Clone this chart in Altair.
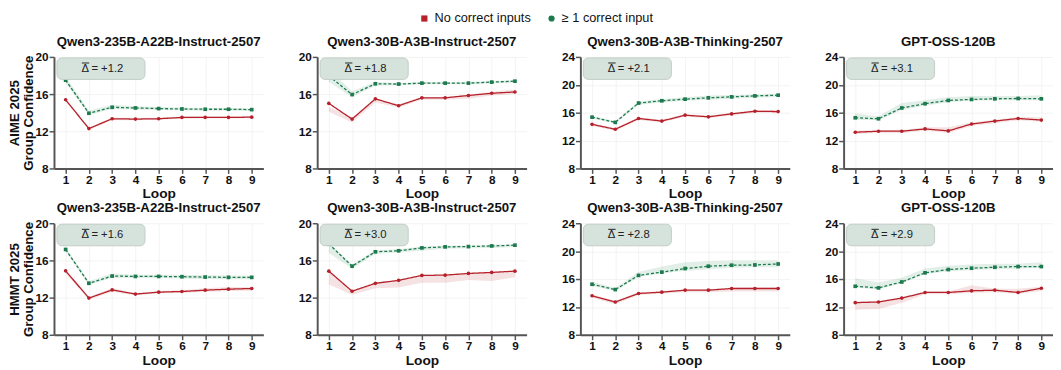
import altair as alt
import pandas as pd

LOOPS = [1, 2, 3, 4, 5, 6, 7, 8, 9]
SERIES_R = "No correct inputs"
SERIES_G = "≥ 1 correct input"
RED = "#b5202a"
GREEN = "#1c7a4e"

MODELS = ["Qwen3-235B-A22B-Instruct-2507", "Qwen3-30B-A3B-Instruct-2507",
          "Qwen3-30B-A3B-Thinking-2507", "GPT-OSS-120B"]
BENCHES = ["AIME 2025", "HMMT 2025"]
DELTAS = [["+1.2", "+1.8", "+2.1", "+3.1"], ["+1.6", "+3.0", "+2.8", "+2.9"]]
YMAX = [20, 20, 24, 24]

# ---- AIME 2025 ----
AIME_235_R = [15.39, 12.29, 13.35, 13.31, 13.35, 13.49, 13.49, 13.49, 13.52]
AIME_235_R_LO = [15.25, 12.15, 13.2, 13.2, 13.25, 13.35, 13.4, 13.4, 13.4]
AIME_235_R_HI = [15.5, 12.4, 13.45, 13.45, 13.45, 13.6, 13.6, 13.6, 13.65]
AIME_235_G = [17.5, 13.94, 14.58, 14.51, 14.44, 14.40, 14.37, 14.37, 14.33]
AIME_235_G_LO = [17.2, 13.75, 14.4, 14.35, 14.3, 14.25, 14.22, 14.22, 14.2]
AIME_235_G_HI = [17.9, 14.2, 14.85, 14.7, 14.6, 14.55, 14.5, 14.5, 14.48]

AIME_30I_R = [15.0, 13.31, 15.49, 14.75, 15.6, 15.6, 15.85, 16.09, 16.23]
AIME_30I_R_LO = [14.1, 12.95, 15.1, 14.55, 15.4, 15.4, 15.5, 15.85, 16.0]
AIME_30I_R_HI = [14.6, 13.5, 15.5, 14.9, 15.7, 15.7, 15.95, 16.25, 16.5]
AIME_30I_G = [17.96, 15.95, 17.11, 17.08, 17.18, 17.18, 17.18, 17.29, 17.39]
AIME_30I_G_LO = [17.3, 15.7, 16.9, 16.95, 17.05, 17.05, 17.05, 17.15, 17.25]
AIME_30I_G_HI = [18.7, 16.3, 17.3, 17.2, 17.3, 17.3, 17.3, 17.4, 17.5]

AIME_30T_R = [14.33, 13.62, 15.17, 14.8, 15.64, 15.41, 15.83, 16.21, 16.16]
AIME_30T_R_LO = [14.1, 13.4, 14.95, 14.6, 15.45, 15.2, 15.6, 16.0, 15.95]
AIME_30T_R_HI = [14.5, 13.8, 15.35, 15.0, 15.8, 15.6, 16.0, 16.4, 16.35]
AIME_30T_G = [15.36, 14.61, 17.38, 17.71, 17.94, 18.13, 18.27, 18.41, 18.51]
AIME_30T_G_LO = [15.15, 14.45, 17.15, 17.45, 17.7, 17.85, 18.0, 18.15, 18.25]
AIME_30T_G_HI = [15.55, 14.8, 17.6, 17.95, 18.2, 18.45, 18.55, 18.65, 18.75]

AIME_OSS_R = [13.2, 13.34, 13.34, 13.67, 13.39, 14.38, 14.8, 15.17, 14.94]
AIME_OSS_R_LO = [12.9, 13.1, 13.1, 13.4, 13.1, 14.1, 14.5, 14.9, 14.7]
AIME_OSS_R_HI = [13.4, 13.5, 13.5, 13.9, 13.9, 14.6, 15.0, 15.4, 15.3]
AIME_OSS_G = [15.27, 15.13, 16.68, 17.29, 17.76, 17.9, 17.99, 18.04, 17.99]
AIME_OSS_G_LO = [15.0, 14.9, 16.4, 17.0, 17.5, 17.7, 17.8, 17.8, 17.8]
AIME_OSS_G_HI = [15.9, 15.5, 17.4, 17.8, 18.2, 18.4, 18.4, 18.4, 18.5]

# ---- HMMT 2025 ----
HMMT_235_R = [14.88, 11.95, 12.83, 12.38, 12.59, 12.66, 12.8, 12.91, 12.98]
HMMT_235_R_LO = [14.6, 11.8, 12.6, 12.25, 12.45, 12.5, 12.6, 12.7, 12.75]
HMMT_235_R_HI = [15.0, 12.1, 13.0, 12.5, 12.7, 12.8, 13.0, 13.15, 13.15]
HMMT_235_G = [17.18, 13.54, 14.32, 14.28, 14.28, 14.25, 14.21, 14.18, 14.18]
HMMT_235_G_LO = [16.95, 13.35, 14.1, 14.1, 14.1, 14.05, 14.0, 13.98, 13.98]
HMMT_235_G_HI = [17.4, 13.75, 14.6, 14.45, 14.45, 14.45, 14.4, 14.38, 14.38]

HMMT_30I_R = [14.85, 12.69, 13.54, 13.86, 14.39, 14.42, 14.6, 14.71, 14.85]
HMMT_30I_R_LO = [13.4, 12.3, 13.0, 13.1, 13.6, 13.6, 13.9, 13.8, 14.2]
HMMT_30I_R_HI = [14.8, 12.8, 13.6, 13.9, 14.4, 14.4, 14.6, 14.7, 14.9]
HMMT_30I_G = [17.78, 15.38, 16.93, 17.04, 17.35, 17.46, 17.49, 17.56, 17.64]
HMMT_30I_G_LO = [16.8, 15.1, 16.7, 16.85, 17.05, 17.25, 17.3, 17.35, 17.45]
HMMT_30I_G_HI = [17.9, 15.55, 17.1, 17.2, 17.5, 17.6, 17.6, 17.7, 17.75]

HMMT_30T_R = [13.6, 12.71, 13.93, 14.12, 14.4, 14.4, 14.64, 14.64, 14.64]
HMMT_30T_R_LO = [13.3, 12.4, 13.7, 13.9, 14.1, 14.1, 14.2, 14.2, 14.2]
HMMT_30T_R_HI = [13.8, 12.9, 14.1, 14.3, 14.5, 14.5, 14.8, 14.8, 14.8]
HMMT_30T_G = [15.25, 14.49, 16.52, 16.99, 17.51, 17.84, 17.98, 18.02, 18.16]
HMMT_30T_G_LO = [15.0, 14.3, 16.3, 16.8, 17.2, 17.4, 17.6, 17.7, 17.7]
HMMT_30T_G_HI = [15.6, 14.7, 17.0, 17.8, 18.4, 18.6, 18.7, 18.7, 18.7]

HMMT_OSS_R = [12.61, 12.71, 13.27, 14.07, 14.07, 14.31, 14.4, 14.07, 14.68]
HMMT_OSS_R_LO = [11.6, 11.7, 12.6, 13.8, 13.8, 14.0, 14.1, 13.9, 14.3]
HMMT_OSS_R_HI = [12.8, 12.8, 13.4, 14.2, 14.2, 15.1, 14.6, 14.6, 14.9]
HMMT_OSS_G = [14.96, 14.73, 15.58, 16.89, 17.36, 17.55, 17.69, 17.79, 17.79]
HMMT_OSS_G_LO = [14.8, 14.5, 15.4, 16.7, 17.1, 17.3, 17.4, 17.5, 17.6]
HMMT_OSS_G_HI = [16.1, 15.5, 16.2, 17.5, 17.9, 18.1, 18.2, 18.2, 18.4]

PANELS = [
    [(AIME_235_R, AIME_235_R_LO, AIME_235_R_HI, AIME_235_G, AIME_235_G_LO, AIME_235_G_HI),
     (AIME_30I_R, AIME_30I_R_LO, AIME_30I_R_HI, AIME_30I_G, AIME_30I_G_LO, AIME_30I_G_HI),
     (AIME_30T_R, AIME_30T_R_LO, AIME_30T_R_HI, AIME_30T_G, AIME_30T_G_LO, AIME_30T_G_HI),
     (AIME_OSS_R, AIME_OSS_R_LO, AIME_OSS_R_HI, AIME_OSS_G, AIME_OSS_G_LO, AIME_OSS_G_HI)],
    [(HMMT_235_R, HMMT_235_R_LO, HMMT_235_R_HI, HMMT_235_G, HMMT_235_G_LO, HMMT_235_G_HI),
     (HMMT_30I_R, HMMT_30I_R_LO, HMMT_30I_R_HI, HMMT_30I_G, HMMT_30I_G_LO, HMMT_30I_G_HI),
     (HMMT_30T_R, HMMT_30T_R_LO, HMMT_30T_R_HI, HMMT_30T_G, HMMT_30T_G_LO, HMMT_30T_G_HI),
     (HMMT_OSS_R, HMMT_OSS_R_LO, HMMT_OSS_R_HI, HMMT_OSS_G, HMMT_OSS_G_LO, HMMT_OSS_G_HI)],
]

FONT = "Liberation Sans"
W, H = 214, 114

color_scale = alt.Scale(domain=[SERIES_R, SERIES_G], range=[RED, GREEN])
shape_scale = alt.Scale(domain=[SERIES_R, SERIES_G], range=["square", "circle"])
legend = alt.Legend(
    title=None, orient="none", legendX=372, legendY=-46, direction="horizontal",
    labelFontSize=13, labelFont=FONT, symbolSize=40, columnPadding=14, labelOffset=4,
    symbolOpacity=1,
)


def panel(r, c):
    rm, rlo, rhi, gm, glo, ghi = PANELS[r][c]
    df = pd.DataFrame({
        "loop": LOOPS * 2,
        "series": [SERIES_R] * 9 + [SERIES_G] * 9,
        "mean": rm + gm,
        "lo": rlo + glo,
        "hi": rhi + ghi,
    })
    ymax = YMAX[c]
    yvals = list(range(8, ymax + 1, 4))
    x = alt.X("loop:Q", scale=alt.Scale(domain=[0.5, 9.5], nice=False),
              axis=alt.Axis(values=LOOPS, format="d", title="Loop"))
    ytitle = [BENCHES[r], "Group Confidence"] if c == 0 else None
    yaxis = alt.Axis(values=yvals, title=ytitle) if ytitle else alt.Axis(values=yvals, title=None)
    yscale = alt.Scale(domain=[8, ymax], nice=False)
    y = alt.Y("mean:Q", scale=yscale, axis=yaxis)
    base = alt.Chart(df)

    # legend-only layer: no rows survive the filter, the legend comes from the scale domains
    leg = base.transform_filter(alt.datum.loop > 100).mark_point(filled=True, opacity=1).encode(
        x=x, y=y,
        color=alt.Color("series:N", scale=color_scale, legend=legend),
        shape=alt.Shape("series:N", scale=shape_scale, legend=legend))
    layers = [leg]
    for s, col in [(SERIES_R, RED), (SERIES_G, GREEN)]:
        sb = base.transform_filter(alt.datum.series == s)
        layers.append(sb.mark_area(opacity=0.13, color=col).encode(
            x=x, y=alt.Y("lo:Q", scale=yscale, axis=yaxis), y2="hi:Q"))
    for s, col, dash, shp in [(SERIES_R, RED, [1, 0], "circle"),
                              (SERIES_G, GREEN, [3, 2], "square")]:
        sb = base.transform_filter(alt.datum.series == s)
        layers.append(sb.mark_line(strokeWidth=1.3, color=col, strokeDash=dash).encode(x=x, y=y))
        layers.append(sb.mark_point(filled=True, opacity=1, shape=shp, size=14,
                                    color=col).encode(x=x, y=y))

    ann = pd.DataFrame({"label": ["Δ = " + DELTAS[r][c]]})
    box = alt.Chart(ann).mark_rect(
        fill="#d5e3dc", stroke="#c3cdc8", strokeWidth=1, cornerRadius=5).encode(
        x=alt.value(3), x2=alt.value(93), y=alt.value(1), y2=alt.value(23))
    txt = alt.Chart(ann).mark_text(
        fontSize=11.5, font=FONT, color="#222222", align="left", baseline="middle").encode(
        x=alt.value(28), y=alt.value(12.5), text="label:N")
    bar = alt.Chart(ann).mark_rule(color="#222222", strokeWidth=1).encode(
        x=alt.value(28.5), x2=alt.value(36), y=alt.value(6.2))
    layers += [box, txt, bar]
    return alt.layer(*layers).properties(
        width=W, height=H,
        title=alt.TitleParams(MODELS[c], fontSize=13.5, fontWeight="bold",
                              font=FONT, offset=3, anchor="middle", color="#111111"))


rows = []
for r in range(2):
    rows.append(alt.hconcat(*[panel(r, c) for c in range(4)], spacing=35))

chart = alt.vconcat(*rows, spacing=0).configure_view(stroke=None).configure_axis(
    labelFont=FONT, titleFont=FONT, labelFontWeight="bold", labelFontSize=12,
    labelColor="#111111", titleColor="#111111", titleFontWeight="bold",
    titleFontSize=14, domainColor="#555555", domainWidth=2, tickColor="#555555",
    tickWidth=1.5, tickSize=5, gridColor="#efefef", gridWidth=0.8,
    labelPadding=1,
).configure_axisX(titlePadding=2).configure_axisY(
    titlePadding=0, titleLineHeight=13.5, titleFontSize=13.5,
).configure_legend(
    labelFontWeight="normal", labelColor="#111111",
).properties(padding={"left": 0, "top": 0, "right": 0, "bottom": 0})

chart.save("out.html", embed_options={"renderer": "svg", "actions": False})
